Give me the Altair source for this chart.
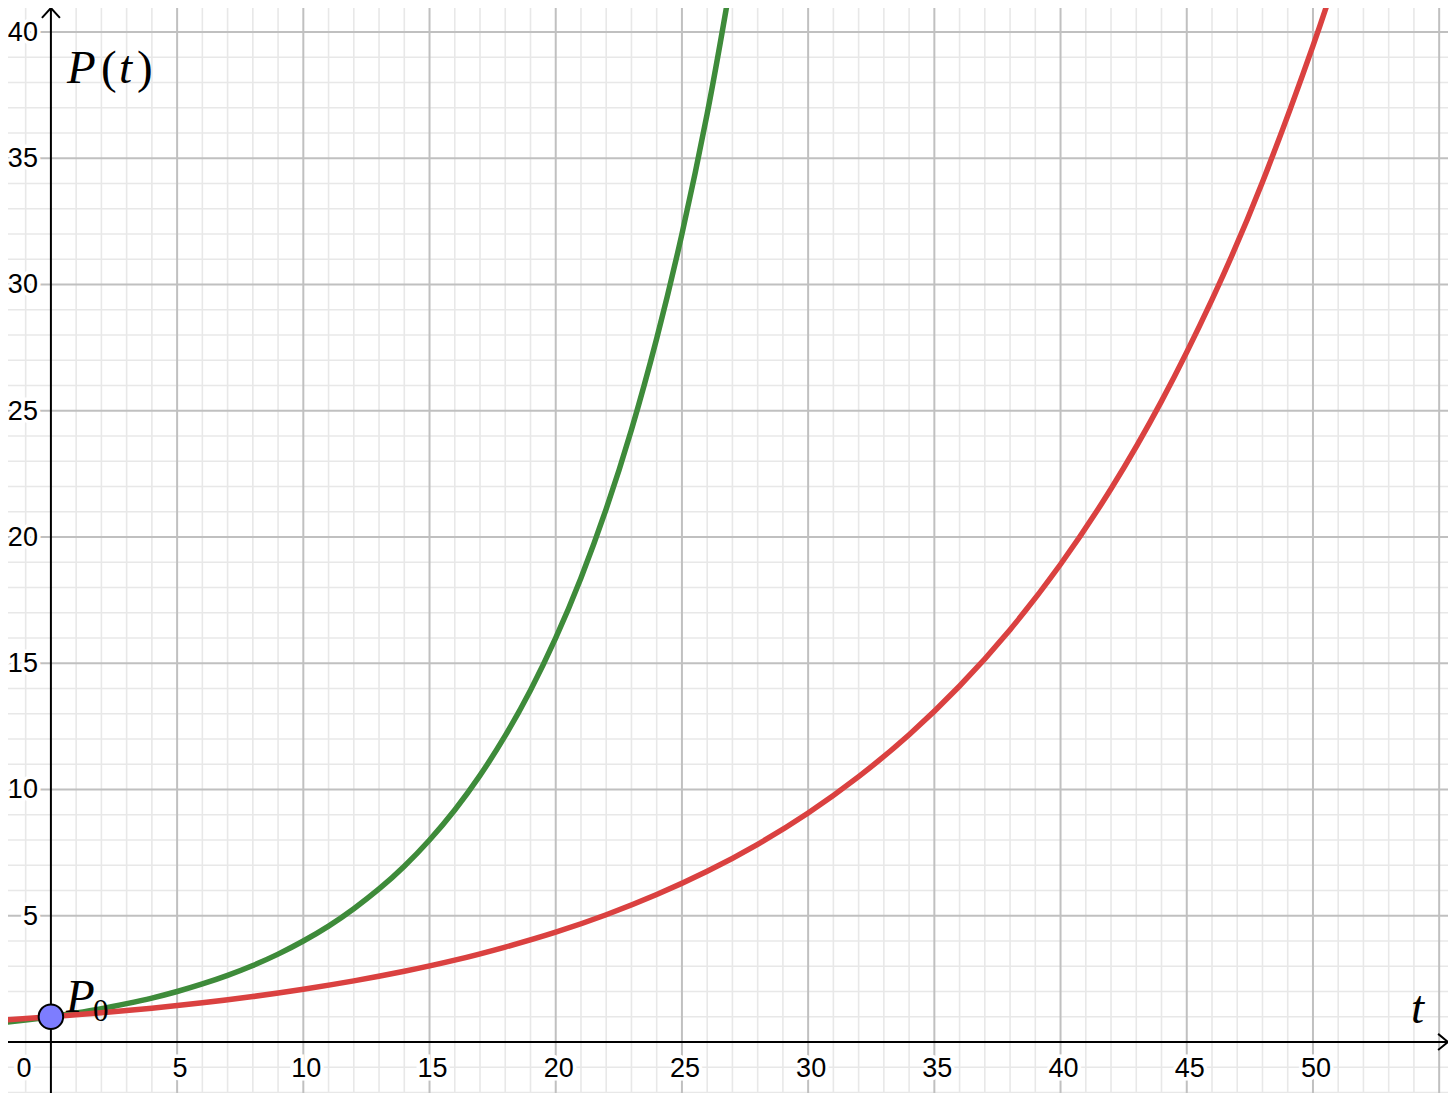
import altair as alt
import pandas as pd

# ---- visible data window (t horizontal, P(t) vertical) ----
X_DOMAIN = [-1.70, 55.35]
Y_DOMAIN = [-2.02, 40.95]

# ---- curves ----
green_t = [-2, -1, 0, 1, 2, 3, 4, 5, 6, 7, 8, 9, 10, 11, 12, 13, 14, 15, 16, 17,
           18, 19, 20, 21, 22, 23, 24, 25, 26, 26.7, 27.2]
green_p = [0.76, 0.87, 1.0, 1.15, 1.32, 1.52, 1.74, 2.0, 2.30, 2.64, 3.03, 3.48, 4.0,
           4.59, 5.28, 6.06, 6.96, 8.0, 9.19, 10.56, 12.13, 13.93, 16.0, 18.38,
           21.11, 24.25, 27.86, 32.0, 36.76, 40.6, 43.5]

red_t = [-2, 0, 2, 4, 6, 8, 10, 12, 14, 16, 18, 20, 22, 24, 26, 28, 30, 32, 34,
         36, 38, 40, 42, 44, 46, 48, 50, 51]
red_p = [0.86, 1.0, 1.16, 1.34, 1.55, 1.80, 2.09, 2.42, 2.80, 3.24, 3.76, 4.35,
         5.04, 5.84, 6.76, 7.83, 9.07, 10.51, 12.17, 14.10, 16.33, 18.92, 21.91,
         25.38, 29.40, 34.06, 39.45, 42.45]

# initial value point P0
p0_t = [0]
p0_p = [1]

# ---- ticks / grid ----
x_ticks = [5, 10, 15, 20, 25, 30, 35, 40, 45, 50]
y_ticks = [5, 10, 15, 20, 25, 30, 35, 40]
x_major = [5, 10, 15, 20, 25, 30, 35, 40, 45, 50, 55]
y_major = [5, 10, 15, 20, 25, 30, 35, 40]
x_minor = [v for v in range(-1, 56) if v % 5 != 0]
y_minor = [v for v in range(-2, 41) if v % 5 != 0]
origin_label = ["0"]

GREEN = "#3e8b3a"
RED = "#da4140"
LABEL_FONT = "Liberation Sans"
MATH_FONT = "Liberation Serif"

xs = alt.Scale(domain=X_DOMAIN, nice=False, zero=False)
ys = alt.Scale(domain=Y_DOMAIN, nice=False, zero=False)


def X(f):
    return alt.X(f, type="quantitative", scale=xs, axis=None)


def Y(f):
    return alt.Y(f, type="quantitative", scale=ys, axis=None)


# grid
minor_v = alt.Chart(pd.DataFrame({"x": x_minor})).mark_rule(
    color="#e8e8e8", strokeWidth=1.6).encode(x=X("x"))
minor_h = alt.Chart(pd.DataFrame({"y": y_minor})).mark_rule(
    color="#e8e8e8", strokeWidth=1.6).encode(y=Y("y"))
major_v = alt.Chart(pd.DataFrame({"x": x_major})).mark_rule(
    color="#c0c0c0", strokeWidth=2).encode(x=X("x"))
major_h = alt.Chart(pd.DataFrame({"y": y_major})).mark_rule(
    color="#c0c0c0", strokeWidth=2).encode(y=Y("y"))

# axes
axis_df = pd.DataFrame({"x": [0], "y": [0]})
axis_v = alt.Chart(axis_df).mark_rule(color="black", strokeWidth=2).encode(x=X("x"))
axis_h = alt.Chart(axis_df).mark_rule(color="black", strokeWidth=2).encode(y=Y("y"))

arrow_up = alt.Chart(pd.DataFrame({"x": [0], "y": [Y_DOMAIN[1]]})).mark_point(
    shape="M -1 1.1 L 0 0 L 1 1.1", filled=False, stroke="black", strokeWidth=2,
    size=324, opacity=1).encode(x=X("x"), y=Y("y"))
arrow_right = alt.Chart(pd.DataFrame({"x": [X_DOMAIN[1]], "y": [0]})).mark_point(
    shape="M -1.1 -0.9 L 0 0 L -1.1 0.9", filled=False, stroke="black", strokeWidth=2,
    size=324, opacity=1).encode(x=X("x"), y=Y("y"))

# tick labels (with white halo like the reference)
xt_df = pd.DataFrame({"x": x_ticks, "y": [0] * len(x_ticks),
                      "label": [str(v) for v in x_ticks]})
yt_df = pd.DataFrame({"x": [0] * len(y_ticks), "y": y_ticks,
                      "label": [str(v) for v in y_ticks]})
o_df = pd.DataFrame({"x": [0], "y": [0], "label": origin_label})


def tick_text(df, halo, **kw):
    if halo:
        m = alt.Chart(df).mark_text(font=LABEL_FONT, fontSize=27, color="white",
                                    stroke="white", strokeWidth=7, **kw)
    else:
        m = alt.Chart(df).mark_text(font=LABEL_FONT, fontSize=27, color="black", **kw)
    return m.encode(x=X("x"), y=Y("y"), text="label:N")


xlab_kw = dict(align="center", baseline="middle", dx=3, dy=27)
ylab_kw = dict(align="right", baseline="middle", dx=-13, dy=1)
olab_kw = dict(align="center", baseline="middle", dx=-27, dy=27)

labels = [
    tick_text(xt_df, True, **xlab_kw), tick_text(yt_df, True, **ylab_kw),
    tick_text(o_df, True, **olab_kw),
    tick_text(xt_df, False, **xlab_kw), tick_text(yt_df, False, **ylab_kw),
    tick_text(o_df, False, **olab_kw),
]

# math labels
top_df = pd.DataFrame({"x": [0], "y": [Y_DOMAIN[1]]})


def piece(df, txt, dx, dy, size, italic=True):
    return alt.Chart(df).mark_text(
        text=txt, font=MATH_FONT, fontSize=size,
        fontStyle="italic" if italic else "normal",
        align="left", baseline="alphabetic", dx=dx, dy=dy, color="black"
    ).encode(x=X("x"), y=Y("y"))


pt_label = [
    piece(top_df, "P", 16, 75, 47),
    piece(top_df, "(", 50, 75, 47, italic=False),
    piece(top_df, "t", 68, 75, 47),
    piece(top_df, ")", 86, 75, 47, italic=False),
]
t_label = piece(pd.DataFrame({"x": [X_DOMAIN[1]], "y": [0]}), "t", -37, -19, 47)

p0_df = pd.DataFrame({"x": p0_t, "y": p0_p})
p0_label = [
    piece(p0_df, "P", 15, -5, 47),
    piece(p0_df, "0", 42, 4, 31, italic=False),
]

# curves
green = alt.Chart(pd.DataFrame({"t": green_t, "P": green_p})).mark_line(
    color=GREEN, strokeWidth=5.5, interpolate="natural", clip=True
).encode(x=X("t"), y=Y("P"))
red = alt.Chart(pd.DataFrame({"t": red_t, "P": red_p})).mark_line(
    color=RED, strokeWidth=5.5, interpolate="natural", clip=True
).encode(x=X("t"), y=Y("P"))

point = alt.Chart(p0_df).mark_point(
    shape="circle", filled=True, fill="#7d7dff", stroke="black", strokeWidth=2,
    size=600, opacity=1
).encode(x=X("x"), y=Y("y"))

chart = alt.layer(
    minor_v, minor_h, major_v, major_h,
    *labels,
    axis_v, axis_h, arrow_up, arrow_right,
    *pt_label, t_label,
    green, red, point, *p0_label,
).properties(
    width=1440, height=1085, padding=0,
    autosize=alt.AutoSizeParams(type="none"),
    background="white",
).configure_view(stroke=None)

chart.save("out.html", embed_options={"renderer": "svg", "actions": False})
